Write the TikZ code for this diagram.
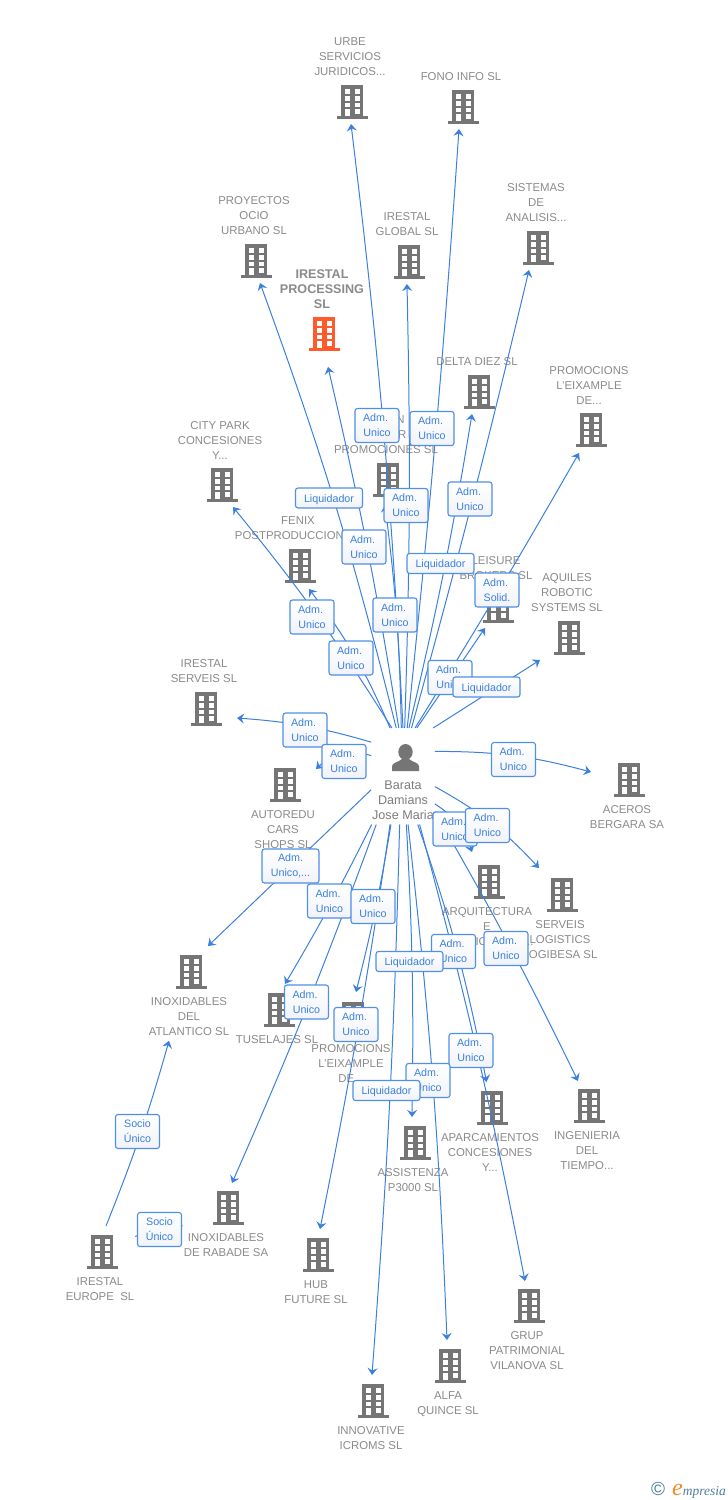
\documentclass[tikz,border=0pt]{standalone}
\usepackage{fontspec}
\setmainfont{Liberation Sans}
\newfontfamily\logofont{Liberation Serif}
\usetikzlibrary{positioning,arrows.meta}
\definecolor{linkblue}{HTML}{3B80E0}
\definecolor{boxline}{HTML}{4F8FE6}
\definecolor{boxbot}{HTML}{F1F3F8}
\definecolor{txtgray}{HTML}{8A8A8A}
\definecolor{icogray}{HTML}{757575}
\definecolor{icoorange}{HTML}{FF5A2B}
\definecolor{logoblue}{HTML}{4A7F9C}
\definecolor{logoorange}{HTML}{F08A24}
\newcommand{\icodn}{\rule[-45.7pt]{0pt}{45.7pt}\\}
\newcommand{\icoup}{\\\rule{0pt}{42pt}}
\newcommand{\admu}{Adm.\hspace*{3pt}\\Unico}
\tikzset{
  icon/.store in=\icocol, icon=icogray,
  bldg/.pic={
    \fill[\icocol] (-9,0) rectangle (13,32);
    \fill[\icocol] (-13.5,31) rectangle (17.5,34);
    \foreach \wy in {4.3,11,17.7} {
      \fill[white] (-5,\wy) rectangle ++(4.5,4.5);
      \fill[white] (5,\wy) rectangle ++(4.5,4.5);
    }
    \fill[white] (-5,24.3) rectangle ++(4.5,7);
    \fill[white] (5,24.3) rectangle ++(4.5,4.5);
  },
  human/.pic={
    \fill[icogray] (2.5,19) ellipse (7.2 and 8);
    \fill[icogray] (-11,38) -- (-11,33.5) .. controls (-11,29.5) and (-5,29.5) .. (-1,26)
      -- (6,26) .. controls (10,29.5) and (16,29.5) .. (16,33.5) -- (16,38) -- cycle;
  },
  co/.style={align=center, inner sep=0pt, outer xsep=1pt, outer ysep=5pt, text=txtgray,
    font=\fontsize{11.4}{15}\selectfont},
  coup/.style={co, anchor=south,
    path picture={\pic at ([yshift=34pt]path picture bounding box.south) {bldg};}},
  codn/.style={co, anchor=north,
    path picture={\pic at ([yshift=-4pt]path picture bounding box.north) {bldg};}},
  conn/.style={draw=linkblue, line width=1pt, -{Stealth[length=7pt,width=10pt,inset=2.5pt]}},
  rel/.style={draw=boxline, line width=1.1pt, rounded corners=2.5pt, top color=white,
    bottom color=boxbot, text=linkblue, align=center, inner sep=0pt,
    minimum width=44pt, minimum height=34pt, font=\fontsize{10.7}{15}\selectfont,
    execute at begin node={\rule{0pt}{11pt}}},
  relone/.style={rel, minimum width=67pt, minimum height=20pt}
}
\begin{document}
\begin{tikzpicture}[x=1pt,y=-1pt]
  \useasboundingbox (0,0) rectangle (728,1500);
  % owner
  \node[co, anchor=north, outer xsep=1pt, text=txtgray!90!black, font=\fontsize{12.6}{15}\selectfont,
    path picture={\pic at (path picture bounding box.north) {human};}] (barata) at (403,728)
    {\rule[-46.7pt]{0pt}{46.7pt}\\Barata\\Damians\\Jose Maria};
  % companies, text above the icon
  \node[coup] (urbe) at (350,124) {URBE\\SERVICIOS\\JURIDICOS...\icoup};
  \node[coup] (fono) at (461,129) {FONO INFO SL\icoup};
  \node[coup] (sistemas) at (536,270) {SISTEMAS\\DE\\ANALISIS...\icoup};
  \node[coup] (proyectos) at (254,283) {PROYECTOS\\OCIO\\URBANO SL\icoup};
  \node[coup] (iglobal) at (407,284) {IRESTAL\\GLOBAL SL\icoup};
  \node[coup, icon=icoorange, font=\fontsize{12.6}{15}\selectfont\bfseries] (processing) at (322,356)
    {IRESTAL\\PROCESSING\\SL\\\rule{0pt}{41pt}};
  \node[coup] (delta) at (477,414) {DELTA DIEZ SL\icoup};
  \node[coup] (promoeix) at (589,452) {PROMOCIONS\\L'EIXAMPLE\\DE...\icoup};
  \node[coup] (promociones) at (386,502) {\phantom{ORIO}N\\\phantom{ORIOI}R\\PROMOCIONES SL\icoup};
  \node[coup] (city) at (220,507) {CITY PARK\\CONCESIONES\\Y...\icoup};
  \node[coup] (fenix) at (298,588) {FENIX\\POSTPRODUCCION\phantom{ SL}\icoup};
  \node[coup] (leisure) at (496,628) {LEISURE\\BROKERS SL\icoup};
  \node[coup] (aquiles) at (567,660) {AQUILES\\ROBOTIC\\SYSTEMS SL\icoup};
  \node[coup] (iserveis) at (204,731) {IRESTAL\\SERVEIS SL\icoup};
  % companies, text below the icon
  \node[codn] (autoredu) at (283,759) {\icodn AUTOREDU\\CARS\\SHOPS SL};
  \node[codn] (aceros) at (627,754) {\icodn ACEROS\\BERGARA SA};
  \node[codn] (arquitectura) at (487,856) {\icodn ARQUITECTURA\\E\\\hspace*{35pt}IC\hspace*{37pt}...};
  \node[codn] (logibesa) at (560,869) {\icodn SERVEIS\\LOGISTICS\\LOGIBESA SL};
  \node[codn] (ingenieria) at (587,1080) {\icodn INGENIERIA\\DEL\\TIEMPO...};
  \node[codn] (aparcamientos) at (490,1082) {\icodn APARCAMIENTOS\\CONCESIONES\\Y...};
  \node[codn] (tuselajes) at (277,984) {\icodn TUSELAJES SL};
  \node[codn] (promodos) at (351,993) {\icodn PROMOCIONS\\L'EIXAMPLE\\DE...};
  \node[codn] (assistenza) at (413,1117) {\icodn ASSISTENZA\\P3000 SL};
  \node[codn] (atlantico) at (189,946) {\icodn INOXIDABLES\\DEL\\ATLANTICO SL};
  \node[codn] (rabade) at (226,1182) {\icodn INOXIDABLES\\DE RABADE SA};
  \node[codn] (ieurope) at (100,1226) {\icodn IRESTAL\\EUROPE\ \ SL};
  \node[codn] (hub) at (316,1229) {\icodn HUB\\FUTURE SL};
  \node[codn] (grup) at (527,1280) {\icodn GRUP\\PATRIMONIAL\\VILANOVA SL};
  \node[codn] (alfa) at (448,1340) {\icodn ALFA\\QUINCE SL};
  \node[codn] (innovative) at (371,1375) {\icodn INNOVATIVE\\ICROMS SL};
  % connectors: target anchor, shift from it, start angle, bend
  \foreach \tgt/\dx/\dy/\st/\bnd in {
    city.south/13/0/103/3.5, fenix.south/11/1/105/7, proyectos.south/6/0/98/3,
    processing.south/6/11/95/2, promociones.south/-1/3/92/3, urbe.south/1/0/90/2,
    iglobal.south/0/0/88/1.5, fono.south/-2/0/85/1, delta.south/-5/0/83/2,
    sistemas.south/-7/0/80/1, promoeix.south/-10/1/76/1, leisure.south/-11/0/74/0,
    aquiles.south/-27/0/58/0, iserveis.south/33/-13/133/6, autoredu.north/33/10/147/30,
    aceros.north/-36/18/38/-7.5, logibesa.north/-21/-1/342/-9, arquitectura.north/-15/-4/319/-20,
    ingenieria.north/-9/1/312/-2, atlantico.north/19/0/203/0, tuselajes.north/8/0/237/-2,
    rabade.north/6/1/241/-1.8, promodos.north/5/-1/256/-2.3, hub.north/4/0/255/-1.5,
    innovative.north/1/0/266/-1.4, assistenza.north/-1/0/274/-2, alfa.north/-1/0/276/-2,
    aparcamientos.north/-3.5/0/287/-4, grup.north/-2/1/289/-2}
    \draw[conn] (barata.\st) to[bend right=\bnd] ([shift={(\dx,\dy)}]\tgt);
  \draw[conn] ([xshift=6pt]ieurope.north) to[bend right=3] ([xshift=-20pt]atlantico.south);
  \draw[conn] (ieurope.40) -- (rabade.185);
  % relation boxes
  \foreach \nm/\x/\y in {
    urbe/377/425.5, fono/432/428.5, promociones/406/505.5, delta/470/499, proyectos/364/547,
    iglobal/395/615, city/312/617, fenix/351/658, leisure/450/677.5, iserveis/305/730,
    autoredu/344/761.5, aceros/513.5/759.5, arquitectura/455/829, logibesa/487.5/825.5,
    tuselajes/329.5/901, promodos/373/906.5, aparcamientos/453.5/951.5, ingenieria/506/948.5,
    rabade/306.5/1002, hub/356/1024.5, grup/471/1050.5, alfa/428/1080.5}
    \node[rel] (adm_\nm) at (\x,\y) {\admu};
  \node[rel] (solid_promoeix) at (497,590) {Adm.\hspace*{3pt}\\Solid.};
  \node[rel, minimum width=57pt] (adm_atlantico) at (290.5,866) {Adm.\\Unico,...};
  \foreach \nm/\x/\y in {processing/329/498, sistemas/440.5/563.5, aquiles/486.5/687,
    assistenza/409.5/961.5, innovative/386.5/1090.5}
    \node[relone] (liq_\nm) at (\x,\y) {Liquidador};
  \node[rel] (socio_atlantico) at (137.5,1131.5) {Socio\\Único};
  \node[rel] (socio_rabade) at (159.5,1229.5) {Socio\\Único};
  % logo
  \node[inner sep=0pt, anchor=east, text=logoblue] (logo) at (726,1490)
    {\fontsize{19}{19}\selectfont ©\hspace{7pt}\logofont\itshape
     {\color{logoorange}\fontsize{24}{24}\selectfont e}\fontsize{13.5}{15}\selectfont mpresia};
\end{tikzpicture}
\end{document}
